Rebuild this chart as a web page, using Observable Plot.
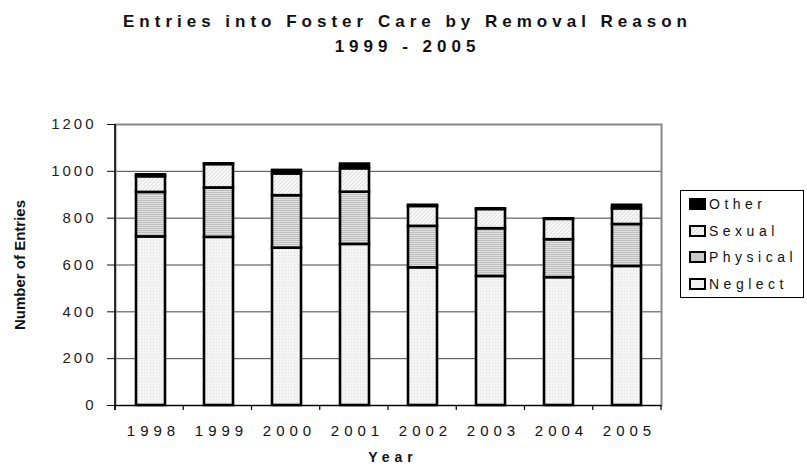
<!DOCTYPE html>
<html><head><meta charset="utf-8">
<script src="https://cdn.jsdelivr.net/npm/d3@7"></script>
<script src="https://cdn.jsdelivr.net/npm/@observablehq/plot@0.6"></script>
<style>
body{margin:0;background:#fff;font-family:Arial,"Liberation Sans",sans-serif;}
#wrap{position:relative;width:807px;height:469px;overflow:hidden;}
#wrap svg{position:absolute;left:0;top:0;}
#title{position:absolute;left:0;top:9px;width:807px;text-align:center;font-weight:bold;font-size:17px;letter-spacing:5px;line-height:25px;color:#111;padding-left:8px;box-sizing:border-box;}
#ytitle{position:absolute;left:19px;top:265px;transform:translate(-50%,-50%) rotate(-90deg);font-weight:bold;font-size:15px;white-space:nowrap;color:#111;}
#xtitle{position:absolute;left:393px;top:457px;transform:translate(-50%,-50%);font-weight:bold;font-size:14px;letter-spacing:5px;white-space:nowrap;color:#111;}
#legend{position:absolute;left:680px;top:190px;width:124px;height:108px;border:1px solid #000;box-sizing:border-box;background:#fff;}
.li{height:26.5px;display:flex;align-items:center;font-size:14px;letter-spacing:4.5px;color:#111;padding-left:8px;}
.sw{width:13px;height:8px;border:2px solid #000;margin-right:3px;flex:none;}
</style>
</head><body>
<div id="wrap">
  <div id="title"></div>
  <div id="ytitle"></div>
  <div id="xtitle"></div>
  <div id="legend"></div>
</div>
<script>
const years = ["1998","1999","2000","2001","2002","2003","2004","2005"];
const series = ["Neglect","Physical","Sexual","Other"];
const neglect  = [720, 718, 672, 688, 588, 551, 546, 594];
const physical = [190, 211, 224, 223, 177, 204, 162, 179];
const sexual   = [ 67, 100,  93, 100,  85,  82,  87,  67];
const other    = [  8,   3,  15,  20,   5,   3,   2,  15];
const yTicks = [0, 200, 400, 600, 800, 1000, 1200];
const titleLines = ["Entries into Foster Care by Removal Reason", "1999 - 2005"];
const yLabel = "Number of Entries";
const xLabel = "Year";

const values = {Neglect: neglect, Physical: physical, Sexual: sexual, Other: other};
const data = [];
series.forEach(s => years.forEach((y, i) => data.push({year: y, type: s, value: values[s][i]})));

const fills = ["url(#pNeglect)", "url(#pPhysical)", "url(#pSexual)", "#000"];

const chart = Plot.plot({
  width: 807, height: 469,
  marginLeft: 115, marginRight: 146, marginTop: 124, marginBottom: 64,
  style: {fontFamily: "Arial, 'Liberation Sans', sans-serif", fontSize: "15px", color: "#111", background: "transparent"},
  x: {domain: years, paddingInner: 0.575, paddingOuter: 0.2875, label: null},
  y: {domain: [0, 1200], label: null},
  color: {domain: series, range: fills},
  marks: [
    Plot.gridY(yTicks, {stroke: "#444", strokeOpacity: 1, strokeWidth: 1}),
    Plot.frame({stroke: "#888", strokeWidth: 2}),
    Plot.barY(data, {x: "year", y: "value", fill: "type", order: series, stroke: "#000", strokeWidth: 2.6, inset: 0}),
    Plot.ruleY([0], {stroke: "#000", strokeWidth: 1.2}),
    Plot.axisY(yTicks, {tickSize: 8, tickPadding: 11, tickFormat: d => String(d), fontSize: 15, className: "yax"}),
    Plot.axisX({tickSize: 0, tickPadding: 20, fontSize: 15, dx: 2.5, className: "xax"})
  ]
});
document.getElementById("wrap").prepend(chart);

const svg = d3.select(chart);
const defs = svg.insert("defs", ":first-child");
// Neglect: light dotted
const pn = defs.append("pattern").attr("id", "pNeglect").attr("patternUnits", "userSpaceOnUse").attr("width", 3).attr("height", 3);
pn.append("rect").attr("width", 3).attr("height", 3).attr("fill", "#f4f4f4");
pn.append("rect").attr("width", 1).attr("height", 1).attr("fill", "#dedede");
// Physical: horizontal lines
const pp = defs.append("pattern").attr("id", "pPhysical").attr("patternUnits", "userSpaceOnUse").attr("width", 4).attr("height", 2);
pp.append("rect").attr("width", 4).attr("height", 2).attr("fill", "#e0e0e0");
pp.append("rect").attr("width", 4).attr("height", 1).attr("fill", "#bfbfbf");
// Sexual: light diagonal hatch
const ps = defs.append("pattern").attr("id", "pSexual").attr("patternUnits", "userSpaceOnUse").attr("width", 4).attr("height", 4);
ps.append("rect").attr("width", 4).attr("height", 4).attr("fill", "#f5f5f5");
ps.append("path").attr("d", "M0,4 L4,0").attr("stroke", "#dedede").attr("stroke-width", 1);

// letter spacing for tick labels
svg.selectAll("g.xax text").style("letter-spacing", "5px");
svg.selectAll("g.yax text").style("letter-spacing", "3px").style("fill", "#222");

// y-axis line and x boundary ticks from the scales
const sx = chart.scale("x"), sy = chart.scale("y");
const y0 = sy.apply(0), yTop = sy.apply(1200);
const xl = sx.range[0], xr = sx.range[1];
const g = svg.append("g");
g.append("line").attr("x1", xl).attr("x2", xl).attr("y1", yTop).attr("y2", y0 + 5).attr("stroke", "#000").attr("stroke-width", 1.5);
const step = (xr - xl) / years.length;
for (let i = 0; i <= years.length; i++) {
  g.append("line").attr("x1", xl + i * step).attr("x2", xl + i * step).attr("y1", y0).attr("y2", y0 + 5).attr("stroke", "#000").attr("stroke-width", 1.2);
}

document.getElementById("title").innerHTML = titleLines.join("<br>");
document.getElementById("ytitle").textContent = yLabel;
document.getElementById("xtitle").textContent = xLabel;
const legendFill = {Neglect: "#efefef", Physical: "#c9c9c9", Sexual: "repeating-linear-gradient(135deg,#f5f5f5 0 2px,#d8d8d8 2px 3px)", Other: "#000"};
const leg = document.getElementById("legend");
series.slice().reverse().forEach(s => {
  const row = document.createElement("div");
  row.className = "li";
  const sw = document.createElement("span");
  sw.className = "sw";
  sw.style.background = legendFill[s];
  row.appendChild(sw);
  row.appendChild(document.createTextNode(s));
  leg.appendChild(row);
});
</script>
</body></html>
